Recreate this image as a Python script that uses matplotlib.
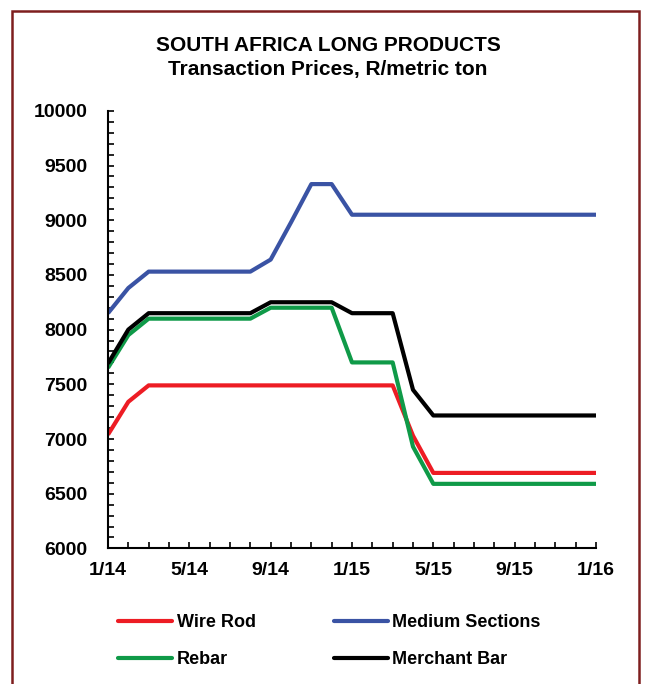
import matplotlib
matplotlib.use("Agg")
import matplotlib.pyplot as plt
from matplotlib.patches import Rectangle

plt.rcParams['font.family'] = ['Liberation Sans', 'DejaVu Sans']
plt.rcParams['font.weight'] = 'bold'

months = list(range(25))  # 1/14 .. 1/16
tick_pos = [0, 4, 8, 12, 16, 20, 24]
tick_labels = ["1/14", "5/14", "9/14", "1/15", "5/15", "9/15", "1/16"]

wire_rod = [7040, 7340, 7490, 7490, 7490, 7490, 7490, 7490, 7490, 7490, 7490, 7490, 7490,
            7490, 7490, 7030, 6690, 6690, 6690, 6690, 6690, 6690, 6690, 6690, 6690]
medium_sections = [8150, 8380, 8530, 8530, 8530, 8530, 8530, 8530, 8640, 8980, 9330, 9330, 9050,
                   9050, 9050, 9050, 9050, 9050, 9050, 9050, 9050, 9050, 9050, 9050, 9050]
rebar = [7650, 7950, 8100, 8100, 8100, 8100, 8100, 8100, 8200, 8200, 8200, 8200, 7700,
         7700, 7700, 6930, 6590, 6590, 6590, 6590, 6590, 6590, 6590, 6590, 6590]
merchant_bar = [7690, 8000, 8150, 8150, 8150, 8150, 8150, 8150, 8250, 8250, 8250, 8250, 8150,
                8150, 8150, 7450, 7215, 7215, 7215, 7215, 7215, 7215, 7215, 7215, 7215]

W, H = 646, 684
fig = plt.figure(figsize=(W / 100, H / 100), dpi=100)
ax = fig.add_axes([108 / W, 1 - 548.4 / H, (596 - 108) / W, (548.4 - 110.8) / H])

lw = 3.0
l_wr, = ax.plot(months, wire_rod, color='#ED1C24', lw=lw, label='Wire Rod', solid_capstyle='butt')
l_ms, = ax.plot(months, medium_sections, color='#3A53A4', lw=lw, label='Medium Sections', solid_capstyle='butt')
l_rb, = ax.plot(months, rebar, color='#0F9A48', lw=lw, label='Rebar', solid_capstyle='butt')
l_mb, = ax.plot(months, merchant_bar, color='#000000', lw=lw, label='Merchant Bar', solid_capstyle='butt')

ax.set_xlim(0, 24)
ax.set_ylim(6000, 10000)
ax.set_xticks(tick_pos)
ax.set_xticklabels(tick_labels)
ax.set_xticks(months, minor=True)
ax.set_yticks(range(6000, 10001, 500))
ax.set_yticks(range(6000, 10001, 100), minor=True)

for s in ['top', 'right']:
    ax.spines[s].set_visible(False)
for s in ['left', 'bottom']:
    ax.spines[s].set_linewidth(1.5)
    ax.spines[s].set_color('black')

ax.tick_params(which='both', direction='in', length=4, width=1.2, colors='black')
ax.tick_params(axis='x', which='major', pad=10, labelsize=14)
ax.tick_params(axis='y', which='major', pad=15, labelsize=14)
for lab in ax.get_xticklabels() + ax.get_yticklabels():
    lab.set_fontweight('bold')

fig.text(328 / W, 1 - 51 / H, "SOUTH AFRICA LONG PRODUCTS",
         ha='center', va='baseline', fontsize=15, fontweight='bold')
fig.text(328 / W, 1 - 75 / H, "Transaction Prices, R/metric ton",
         ha='center', va='baseline', fontsize=15, fontweight='bold')

leg = fig.legend([l_wr, l_rb, l_ms, l_mb],
                 ['Wire Rod', 'Rebar', 'Medium Sections', 'Merchant Bar'],
                 ncol=2, frameon=False, loc='upper left',
                 bbox_to_anchor=(102 / W, 1 - 598 / H),
                 prop={'weight': 'bold', 'size': 13},
                 handlelength=3.0, handletextpad=0.25, columnspacing=4.3,
                 labelspacing=1.1)
for h in leg.legend_handles:
    h.set_solid_capstyle('round')

border = Rectangle((12 / W, -0.05), (639 - 12) / W, 1.05 - 11 / H,
                   transform=fig.transFigure, fill=False, edgecolor='#7E1E1E',
                   linewidth=1.8, clip_on=False)
fig.patches.append(border)

fig.savefig("out.png", dpi=100)
